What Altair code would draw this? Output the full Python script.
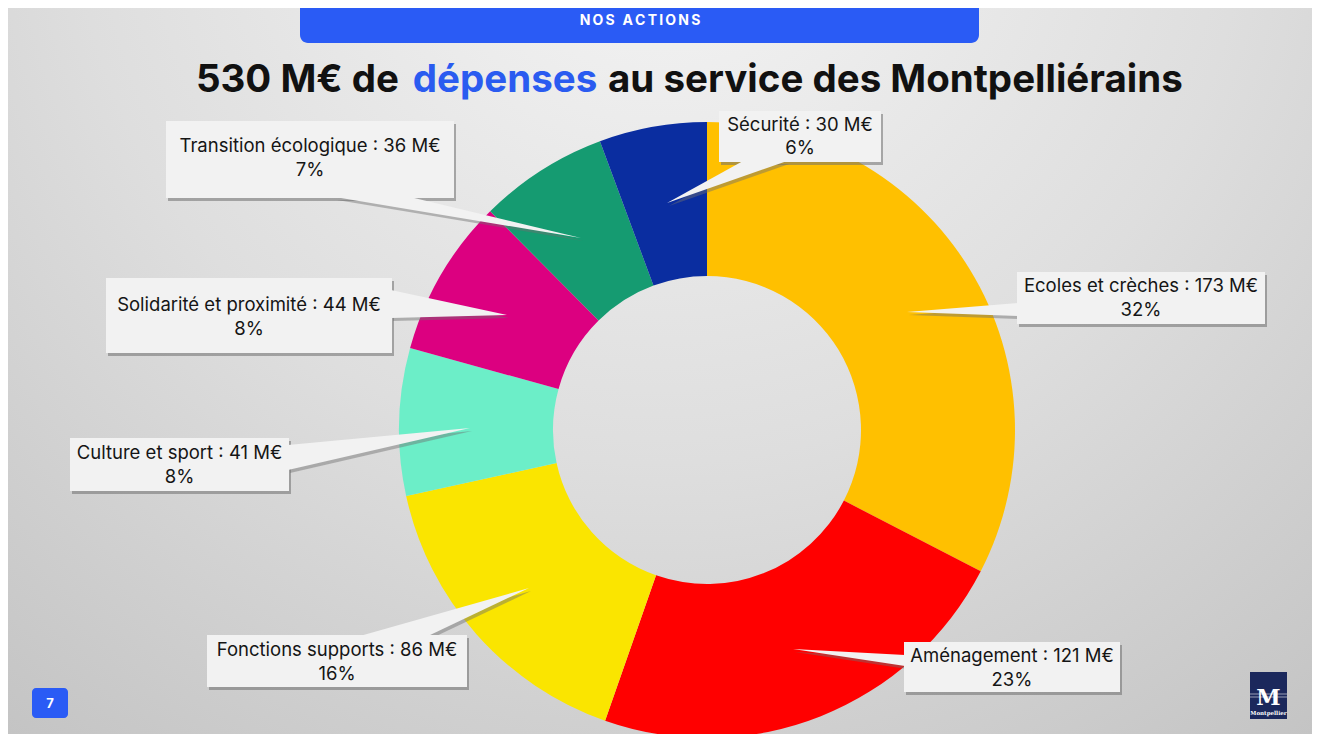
import altair as alt
import pandas as pd

# ---------------- data ----------------
categories = ["Ecoles et crèches", "Aménagement", "Fonctions supports", "Culture et sport",
              "Solidarité et proximité", "Transition écologique", "Sécurité"]
amounts = [173, 121, 86, 41, 44, 36, 30]
percents = ["32%", "23%", "16%", "8%", "8%", "7%", "6%"]
slice_colors = ["#FFC000", "#FF0000", "#FAE500", "#6CEEC8", "#DC0080", "#159B71", "#0A2DA0"]

title_parts = ["530 M€ de", "dépenses", "au service des Montpelliérains"]
banner_text = "NOS ACTIONS"
page_number = "7"
logo_text = "Montpellier"

# ---------------- layout (page pixel coords) ----------------
OFF = 8
W, H = 1304, 726
CX, CY = 707, 430
R_OUT, R_IN = 308, 154

# label boxes: x0, x1, y0, y1, line1 y, line2 y
boxes = {
    "Ecoles et crèches": (1017, 1265, 272, 324, 286, 310),
    "Aménagement": (904, 1120, 642, 692, 656, 680),
    "Fonctions supports": (207, 467, 635, 687, 650, 674),
    "Culture et sport": (70, 289, 438, 491, 453, 477),
    "Solidarité et proximité": (106, 392, 278, 353, 305, 329),
    "Transition écologique": (166, 454, 121, 198, 146, 170),
    "Sécurité": (719, 881, 111, 162, 125, 148),
}
# pointers from a vertical box edge: edge x, y top, y bottom, tip x, tip y
v_pointers = {
    "Ecoles et crèches": (1018, 303, 316, 907, 312),
    "Aménagement": (905, 655, 666, 793, 649),
    "Culture et sport": (288, 445, 470, 470, 428),
    "Solidarité et proximité": (391, 290, 318, 507, 315),
}
# pointers from a horizontal box edge: edge y, x left, x right, tip x, tip y
h_pointers = {
    "Transition écologique": (197, 335, 410, 581, 238),
    "Sécurité": (161, 743, 787, 667, 203),
    "Fonctions supports": (636, 360, 428, 529, 588),
}

SH_DX, SH_DY = 2, 3

# ---------------- tables ----------------
pie_df = pd.DataFrame({"cat": categories, "amount": amounts, "order": list(range(len(categories)))})

box_rows, text_rows = [], []
for c, a, p in zip(categories, amounts, percents):
    x0, x1, y0, y1, t1, t2 = boxes[c]
    box_rows.append({"x": x0 - OFF, "x2": x1 - OFF, "y": y0 - OFF, "y2": y1 - OFF})
    text_rows.append({"x": (x0 + x1) / 2 - OFF, "y": t1 - OFF, "t": f"{c} : {a} M€"})
    text_rows.append({"x": (x0 + x1) / 2 - OFF, "y": t2 - OFF, "t": p})
box_df = pd.DataFrame(box_rows)
text_df = pd.DataFrame(text_rows)
shadow_df = box_df.copy()
shadow_df[["x", "x2"]] += SH_DX
shadow_df[["y", "y2"]] += SH_DY

v_rows = []
for c, (xe, ya, yb, xt, yt) in v_pointers.items():
    v_rows.append({"id": c, "x": xe - OFF, "y": ya - OFF, "y2": yb - OFF})
    v_rows.append({"id": c, "x": xt - OFF, "y": yt - OFF, "y2": yt - OFF})
v_df = pd.DataFrame(v_rows)
h_rows = []
for c, (ye, xa, xb, xt, yt) in h_pointers.items():
    h_rows.append({"id": c, "y": ye - OFF, "x": xa - OFF, "x2": xb - OFF})
    h_rows.append({"id": c, "y": yt - OFF, "x": xt - OFF, "x2": xt - OFF})
h_df = pd.DataFrame(h_rows)
v_sh = v_df.copy(); v_sh["x"] += SH_DX; v_sh[["y", "y2"]] += SH_DY
h_sh = h_df.copy(); h_sh[["x", "x2"]] += SH_DX; h_sh["y"] += SH_DY

X = lambda f: alt.X(f, scale=None, axis=None)
Y = lambda f: alt.Y(f, scale=None, axis=None)

one = pd.DataFrame({"a": [0]})

# ---------------- layers ----------------
bg = alt.Chart(one).mark_rect(
    fill={"gradient": "radial", "x1": 0.5, "y1": 0.12, "r1": 0.0, "x2": 0.5, "y2": 0.12, "r2": 1.0,
          "stops": [{"offset": 0, "color": "#f6f6f6"}, {"offset": 0.45, "color": "#dedede"},
                    {"offset": 1, "color": "#b8b8b8"}]}
).encode(x=alt.value(0), x2=alt.value(W), y=alt.value(0), y2=alt.value(H))

banner = alt.Chart(one).mark_rect(color="#2A5BF5", cornerRadiusBottomLeft=8, cornerRadiusBottomRight=8).encode(
    x=alt.value(300 - OFF), x2=alt.value(979 - OFF), y=alt.value(0), y2=alt.value(43 - OFF))
spaced_banner = "\u2009".join(banner_text)
banner_t = alt.Chart(one).mark_text(text=spaced_banner, color="white", font="Inter", fontWeight="bold",
                                    fontSize=14, align="center", baseline="middle").encode(
    x=alt.value(640 - OFF), y=alt.value(21 - OFF))

tsize = 38.5
title1 = alt.Chart(one).mark_text(text=title_parts[0], color="#111111", font="Inter", fontWeight="bold",
                                  fontSize=tsize, align="right", baseline="alphabetic").encode(
    x=alt.value(399 - OFF), y=alt.value(92 - OFF))
title2 = alt.Chart(one).mark_text(text=title_parts[1], color="#2A5BF0", font="Inter", fontWeight="bold",
                                  fontSize=tsize, align="center", baseline="alphabetic").encode(
    x=alt.value(505 - OFF), y=alt.value(92 - OFF))
title3 = alt.Chart(one).mark_text(text=title_parts[2], color="#111111", font="Inter", fontWeight="bold",
                                  fontSize=tsize, align="left", baseline="alphabetic").encode(
    x=alt.value(608 - OFF), y=alt.value(92 - OFF))

pie = alt.Chart(pie_df).mark_arc(outerRadius=R_OUT, innerRadius=R_IN).encode(
    theta=alt.Theta("amount:Q", stack=True),
    order=alt.Order("order:Q"),
    color=alt.Color("cat:N", scale=alt.Scale(domain=categories, range=slice_colors), legend=None),
    x=alt.value(CX - OFF), y=alt.value(CY - OFF),
)

SHC = "#6f6f6f"
box_shadow = alt.Chart(shadow_df).mark_rect(color=SHC, opacity=0.55).encode(
    x=X("x:Q"), x2="x2:Q", y=Y("y:Q"), y2="y2:Q")
vp_shadow = alt.Chart(v_sh).mark_area(orient="vertical", color=SHC, opacity=0.45).encode(
    x=X("x:Q"), y=alt.Y("y:Q", scale=None, axis=None, stack=None), y2="y2:Q", detail="id:N")
hp_shadow = alt.Chart(h_sh).mark_area(orient="horizontal", color=SHC, opacity=0.45).encode(
    y=Y("y:Q"), x=alt.X("x:Q", scale=None, axis=None, stack=None), x2="x2:Q", detail="id:N")

BOXC = "#F2F2F2"
vp = alt.Chart(v_df).mark_area(orient="vertical", color=BOXC).encode(
    x=X("x:Q"), y=alt.Y("y:Q", scale=None, axis=None, stack=None), y2="y2:Q", detail="id:N")
hp = alt.Chart(h_df).mark_area(orient="horizontal", color=BOXC).encode(
    y=Y("y:Q"), x=alt.X("x:Q", scale=None, axis=None, stack=None), x2="x2:Q", detail="id:N")
box = alt.Chart(box_df).mark_rect(color=BOXC).encode(
    x=X("x:Q"), x2="x2:Q", y=Y("y:Q"), y2="y2:Q")
labels = alt.Chart(text_df).mark_text(font="Inter", fontSize=18.5, color="#151515",
                                      align="center", baseline="middle").encode(
    x=X("x:Q"), y=Y("y:Q"), text="t:N")

pg_box = alt.Chart(one).mark_rect(color="#2A5BF5", cornerRadius=4).encode(
    x=alt.value(32 - OFF), x2=alt.value(68 - OFF), y=alt.value(688 - OFF), y2=alt.value(718 - OFF))
pg_t = alt.Chart(one).mark_text(text=page_number, color="white", font="Inter", fontWeight="bold",
                                fontSize=13, align="center", baseline="middle").encode(
    x=alt.value(50 - OFF), y=alt.value(704 - OFF))

logo_box = alt.Chart(one).mark_rect(color="#1B285C").encode(
    x=alt.value(1250 - OFF), x2=alt.value(1287 - OFF), y=alt.value(672 - OFF), y2=alt.value(719 - OFF))
logo_l1 = alt.Chart(one).mark_rule(color="white", strokeWidth=0.7, opacity=0.8).encode(
    x=alt.value(1250 - OFF), x2=alt.value(1287 - OFF), y=alt.value(694 - OFF))
logo_l2 = alt.Chart(one).mark_rule(color="white", strokeWidth=0.7, opacity=0.8).encode(
    x=alt.value(1250 - OFF), x2=alt.value(1287 - OFF), y=alt.value(697 - OFF))
logo_m = alt.Chart(one).mark_text(text="M", color="white", font="DejaVu Serif", fontWeight="bold",
                                  fontSize=22, align="center", baseline="alphabetic").encode(
    x=alt.value(1268.5 - OFF), y=alt.value(705 - OFF))
logo_t = alt.Chart(one).mark_text(text=logo_text, color="white", font="DejaVu Serif", fontWeight="bold",
                                  fontSize=5.5, align="center", baseline="middle").encode(
    x=alt.value(1268.5 - OFF), y=alt.value(713 - OFF))

chart = alt.layer(
    bg, banner, banner_t, title1, title2, title3, pie,
    box_shadow, vp_shadow, hp_shadow, vp, hp, box, labels,
    pg_box, pg_t, logo_box, logo_l1, logo_l2, logo_m, logo_t,
).properties(
    width=W, height=H, background="#d6d6d6", padding=0,
    autosize=alt.AutoSizeParams(type="none"),
).configure_view(stroke=None)

chart.save("out.html", embed_options={"renderer": "svg", "actions": False})
